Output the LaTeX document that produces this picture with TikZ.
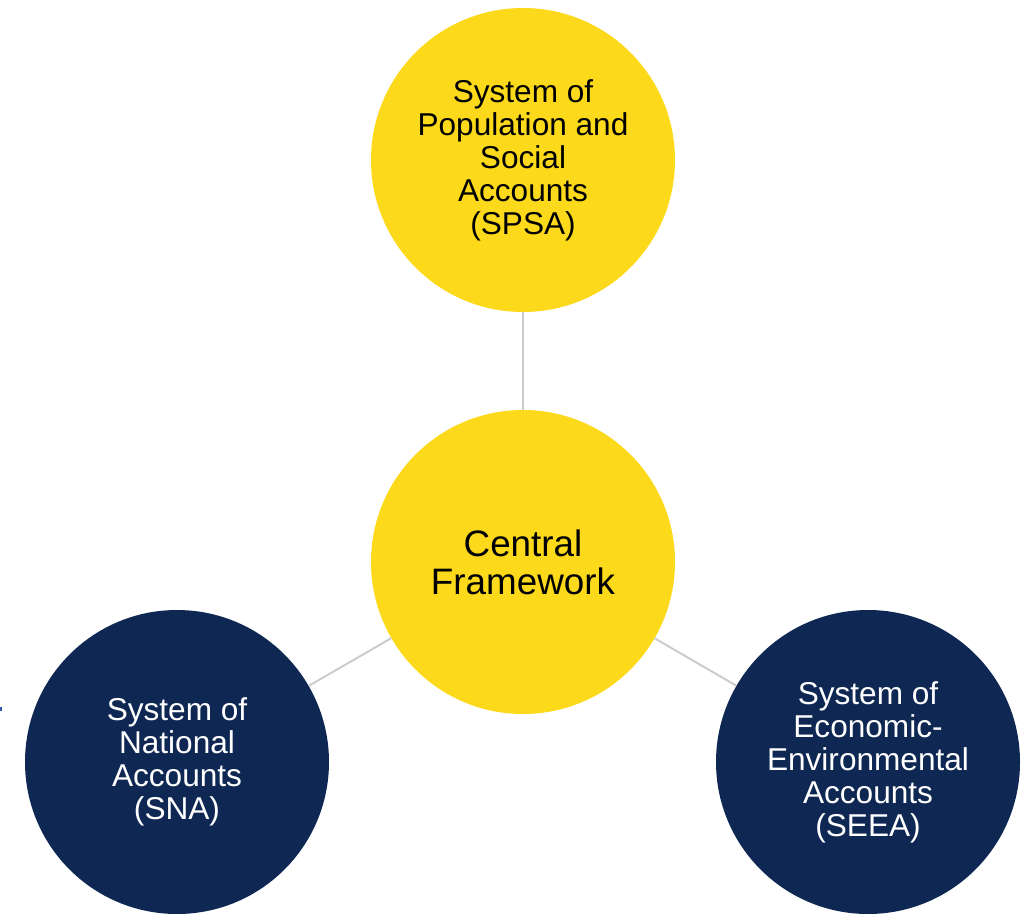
\documentclass[tikz,border=0pt]{standalone}
\usepackage{fontspec}
\setmainfont{Liberation Sans}
\definecolor{acyellow}{HTML}{FDD91B}
\definecolor{acnavy}{HTML}{0F2853}
\definecolor{aclink}{HTML}{CCCCCC}
\definecolor{acdot}{HTML}{2E5AA8}
\begin{document}
\begin{tikzpicture}[x=1pt,y=-1pt,
    account/.style={circle,minimum size=304pt,inner sep=0pt,align=center,
        font=\fontsize{31.6}{33}\selectfont},
    yellowacc/.style={account,fill=acyellow,text=black},
    navyacc/.style={account,fill=acnavy,text=white},
    link/.style={draw=aclink,line width=2pt}]
    \useasboundingbox (0,0) rectangle (1030,913);
    \node[yellowacc] (spsa) at (523,160)
        {System of\\Population and\\Social\\Accounts\\(SPSA)};
    \node[yellowacc,font=\fontsize{36.8}{38}\selectfont] (cf) at (523,562)
        {Central\\Framework};
    \node[navyacc] (sna) at (177,762)
        {System of\\National\\Accounts\\(SNA)};
    \node[navyacc] (seea) at (868,762)
        {System of\\Economic-\\Environmental\\Accounts\\(SEEA)};
    \draw[link] (spsa) -- (cf);
    \draw[link] (sna) -- (cf);
    \draw[link] (seea) -- (cf);
    \fill[acdot] (0,707) rectangle (2,711);
\end{tikzpicture}
\end{document}
